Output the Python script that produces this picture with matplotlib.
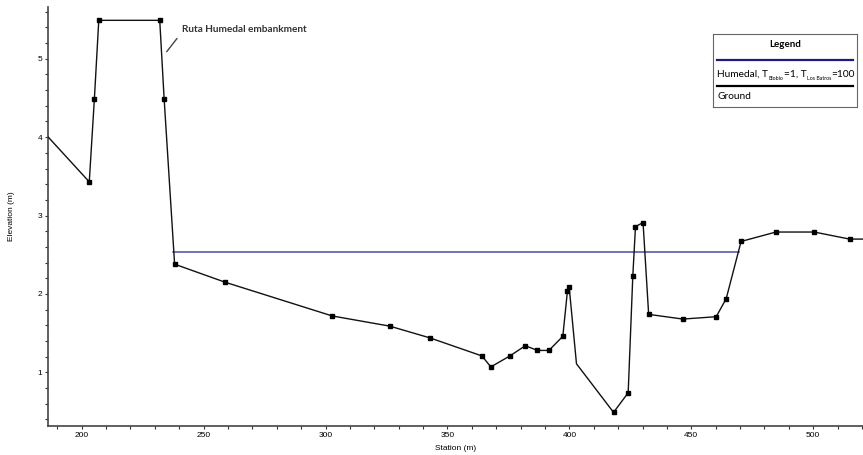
import matplotlib
matplotlib.use('Agg')
import matplotlib.pyplot as plt
from matplotlib.ticker import MultipleLocator

# perfil del terreno (station, elevation)
station = [186.3, 203.1, 205.2, 207.0, 232.0, 233.8, 238.1, 258.8, 302.7, 326.3,
           342.8, 364.1, 367.8, 375.6, 381.9, 386.9, 391.6, 397.3, 399.2, 399.9,
           402.9, 418.1, 424.1, 426.0, 427.1, 430.2, 432.5, 446.5, 460.2, 464.3,
           470.4, 484.7, 500.4, 514.9, 520.6]
elevation = [4.00, 3.43, 4.49, 5.49, 5.49, 4.49, 2.38, 2.15, 1.72, 1.59,
             1.44, 1.21, 1.07, 1.21, 1.34, 1.28, 1.28, 1.46, 2.04, 2.09,
             1.11, 0.49, 0.74, 2.23, 2.86, 2.91, 1.74, 1.68, 1.71, 1.94,
             2.67, 2.79, 2.79, 2.70, 2.70]
# puntos sin marcador (borde del grafico y quiebre)
no_marker = [0, 20, 34]

# nivel de agua
ws_station = [237.5, 469.5]
ws_elev = [2.54, 2.54]

# texto de la leyenda: (texto, es_subindice)
ws_label = [('Humedal, T', False), ('Biobio', True), ('=1, T', False),
            ('Los Batros', True), ('=100', False)]
ground_label = 'Ground'

plt.rcParams['font.family'] = ['Liberation Sans', 'DejaVu Sans']

fig = plt.figure(figsize=(8.63, 4.55), dpi=100)
ax = fig.add_axes([48.3/863, 1-425.7/455, 1-48.3/863, (425.7-7)/455])

ax.plot(ws_station, ws_elev, color='#4b4ba6', lw=1.1, zorder=2)
ax.plot(station, elevation, color='#111111', lw=1.0, zorder=3)
ms_x = [s for i, s in enumerate(station) if i not in no_marker]
ms_y = [e for i, e in enumerate(elevation) if i not in no_marker]
ax.plot(ms_x, ms_y, ls='none', marker='s', ms=3.2, color='black', zorder=4)

ax.set_xlim(186.3, 520.4)
ax.set_ylim(0.32, 5.66)
ax.xaxis.set_major_locator(MultipleLocator(50))
ax.xaxis.set_minor_locator(MultipleLocator(10))
ax.yaxis.set_major_locator(MultipleLocator(1))
ax.yaxis.set_minor_locator(MultipleLocator(0.2))
ax.tick_params(which='both', labelsize=6, length=2.5, width=0.8, color='#333333', pad=2)
ax.tick_params(which='minor', length=2)
ax.spines['top'].set_visible(False)
ax.spines['right'].set_visible(False)
ax.spines['left'].set_color('#444444')
ax.spines['bottom'].set_color('#444444')
ax.spines['left'].set_linewidth(1.2)
ax.spines['bottom'].set_linewidth(1.2)
ax.set_xlabel('Station (m)', fontsize=6, labelpad=4)
ax.set_ylabel('Elevation (m)', fontsize=6, labelpad=16)

# anotacion del terraplen
ax.annotate('Ruta Humedal embankment', xy=(166.7, 455-51.7), xycoords='figure pixels',
            xytext=(181.5, 455-30), textcoords='figure pixels',
            fontsize=7.2, fontweight='bold', family='Lato', color='#333333', va='center',
            arrowprops=dict(arrowstyle='-', color='#444444', lw=1.0, shrinkA=2, shrinkB=0,
                            relpos=(0, 0.2)))

# leyenda
lax = fig.add_axes([713/863, 1-107/455, 144/863, 73/455])
lax.set_xticks([])
lax.set_yticks([])
lax.set_xlim(0, 1)
lax.set_ylim(0, 1)
for sp in lax.spines.values():
    sp.set_color('#666666')
    sp.set_linewidth(0.8)
lax.text(0.5, 0.86, 'Legend', ha='center', va='center', fontsize=7, fontweight='bold', family='Lato')
lax.plot([0.03, 0.97], [0.64, 0.64], color='#1c1c80', lw=1.6)
base_y = 0.41
prev = lax.text(0.03, base_y, ws_label[0][0], ha='left', va='baseline', fontsize=7.3, family='Lato')
for txt, sub in ws_label[1:]:
    prev = lax.annotate(txt, xy=(1, base_y), xycoords=(prev, lax.transAxes),
                        xytext=(0.2, -1.8 if sub else 0), textcoords='offset points',
                        ha='left', va='baseline', fontsize=3.8 if sub else 7.3, family='Lato')
lax.plot([0.03, 0.97], [0.29, 0.29], color='black', lw=1.6)
lax.text(0.03, 0.14, ground_label, ha='left', va='center', fontsize=7.3, family='Lato')

fig.savefig('out.png', dpi=100)
